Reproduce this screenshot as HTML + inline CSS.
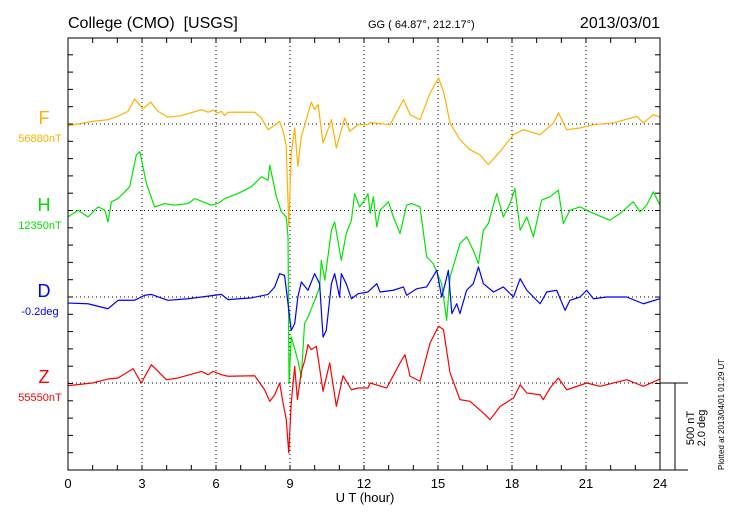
<!DOCTYPE html>
<html><head><meta charset="utf-8"><style>
body{margin:0;background:#fff}
svg{display:block;font-family:"Liberation Sans",sans-serif}
</style></head><body>
<svg id="chart" width="730" height="520" viewBox="0 0 730 520">
<text x="68" y="28" font-size="16">College (CMO)&#160;&#160;[USGS]</text>
<text x="368" y="28" font-size="11">GG ( 64.87°, 212.17°)</text>
<text x="660" y="28" font-size="16" text-anchor="end">2013/03/01</text>
<g id="grid"></g><g id="series"></g><g id="axes"></g>
<text x="44" y="124" font-size="18" fill="#ffb000" text-anchor="middle">F</text>
<text x="40" y="142" font-size="11" fill="#ffb000" text-anchor="middle">56880nT</text>
<text x="44" y="211" font-size="18" fill="#00e000" text-anchor="middle">H</text>
<text x="40" y="229" font-size="11" fill="#00e000" text-anchor="middle">12350nT</text>
<text x="44" y="297" font-size="18" fill="#0000ff" text-anchor="middle">D</text>
<text x="40" y="315" font-size="11" fill="#0000ff" text-anchor="middle">-0.2deg</text>
<text x="44" y="383" font-size="18" fill="#ff0000" text-anchor="middle">Z</text>
<text x="40" y="401" font-size="11" fill="#ff0000" text-anchor="middle">55550nT</text>
<text x="365" y="502" font-size="13" text-anchor="middle">U T (hour)</text>
<g>
<line x1="660" y1="383" x2="688" y2="383" stroke="#000"/>
<line x1="675" y1="383" x2="675" y2="470" stroke="#000"/>
<line x1="660" y1="470" x2="688" y2="470" stroke="#000"/>
<text transform="translate(694,428) rotate(-90)" font-size="11" text-anchor="middle">500 nT</text>
<text transform="translate(705,428) rotate(-90)" font-size="11" text-anchor="middle">2.0 deg</text>
</g>
<text transform="translate(724,470) rotate(-90)" font-size="8">Plotted at 2013/04/01 01:29 UT</text>
</svg>
<script>
const xTicks=[0,3,6,9,12,15,18,21,24];
const fData=[[0,-10],[1,15],[1.62,25],[2.03,45],[2.43,73],[2.7,145],[3.04,87],[3.35,127],[3.65,73],[4.05,40],[4.59,48],[5.41,83],[5.68,68],[5.88,79],[6.08,64],[6.22,73],[6.35,50],[6.49,68],[7.03,68],[7.57,68],[7.84,35],[8.11,-33],[8.31,-14],[8.58,15],[8.72,-42],[8.85,-129],[8.95,-590],[9.05,-168],[9.19,-23],[9.32,-245],[9.46,-71],[9.66,25],[9.86,127],[10,83],[10.14,112],[10.34,-110],[10.54,-33],[10.68,25],[10.88,-139],[11.01,-71],[11.22,35],[11.42,-42],[11.76,-4],[12.16,-4],[12.25,8],[13.06,-4],[13.6,141],[13.87,54],[14.27,25],[14.68,179],[15.02,266],[15.22,189],[15.49,6],[15.89,-91],[16.3,-149],[16.7,-178],[17.04,-235],[17.52,-158],[18.06,-62],[18.46,-33],[19.14,-62],[19.68,6],[19.88,64],[20.22,-33],[20.76,-23],[21.3,-4],[22.11,6],[23.06,44],[23.33,6],[23.73,54],[24,40]];
const hData=[[0,-37],[0.41,2],[0.81,-37],[1.22,21],[1.49,2],[1.62,-66],[1.76,50],[2.03,69],[2.5,137],[2.77,320],[2.91,340],[3.18,156],[3.51,21],[3.92,40],[4.32,31],[4.86,40],[5.14,69],[5.81,31],[6.08,40],[6.35,69],[6.89,98],[7.43,137],[7.84,195],[8.11,175],[8.18,262],[8.45,79],[8.65,-8],[8.85,-37],[8.92,-152],[8.96,-1000],[9.05,-731],[9.32,-866],[9.46,-963],[9.59,-654],[9.73,-616],[10,-519],[10.2,-442],[10.27,-288],[10.41,-403],[10.68,-114],[10.81,-66],[11.08,-288],[11.28,-133],[11.49,-56],[11.62,98],[11.82,21],[12.03,60],[12.16,98],[12.25,-17],[12.38,79],[12.52,-95],[12.65,2],[12.99,50],[13.19,-37],[13.46,-133],[13.73,31],[13.93,40],[14.27,21],[14.54,-268],[14.81,-307],[15.15,-423],[15.35,-635],[15.49,-384],[15.89,-191],[16.16,-152],[16.43,-230],[16.64,-307],[16.84,-114],[17.04,-75],[17.38,98],[17.65,-37],[17.92,40],[18.12,127],[18.33,-114],[18.6,-37],[18.87,-152],[19.2,60],[19.54,79],[19.88,118],[20.08,-75],[20.35,2],[20.76,21],[21.03,2],[21.3,-17],[21.97,-56],[22.38,-17],[22.92,50],[23.19,-8],[23.46,31],[23.73,108],[24,31]];
const dData=[[0,-35],[0.81,-39],[1.62,-68],[2.03,-19],[2.7,-19],[3.11,10],[3.38,15],[4.05,-19],[4.86,-10],[5.41,0],[6.22,15],[6.49,-15],[7.43,-5],[8.11,15],[8.38,58],[8.58,135],[8.78,125],[8.92,-39],[9.05,-193],[9.19,-154],[9.32,0],[9.46,87],[9.73,39],[10,135],[10.2,77],[10.34,-232],[10.47,-193],[10.68,77],[10.81,135],[11.01,0],[11.08,135],[11.28,77],[11.49,-10],[11.76,19],[12.16,29],[12.52,77],[12.65,29],[13.19,39],[13.6,58],[13.73,10],[14.14,48],[14.54,58],[14.95,154],[15.15,0],[15.29,77],[15.42,154],[15.56,-96],[15.76,-39],[15.89,-96],[16.16,39],[16.43,77],[16.64,174],[16.84,77],[17.25,29],[17.65,58],[18.06,0],[18.33,106],[18.6,39],[19.14,-39],[19.41,29],[19.81,39],[20.15,-77],[20.35,-19],[20.76,0],[21.03,39],[21.3,-10],[21.84,0],[22.65,0],[23.33,-39],[24,-10]];
const zData=[[0,-15],[1,0],[1.62,23],[2.03,29],[2.64,83],[2.97,0],[3.38,106],[3.99,19],[4.46,29],[5.41,67],[5.68,48],[5.88,67],[6.22,48],[6.49,39],[7.57,42],[7.97,-39],[8.18,-106],[8.38,-68],[8.58,0],[8.72,-116],[8.85,-212],[8.95,-405],[9.05,-116],[9.19,96],[9.3,-96],[9.46,67],[9.59,125],[9.73,222],[9.86,193],[10.07,212],[10.34,-48],[10.61,116],[10.88,-135],[11.15,42],[11.49,-39],[11.76,-29],[12.16,-29],[12.25,0],[12.92,-29],[13.46,116],[13.66,164],[13.87,39],[14.27,10],[14.68,232],[15.02,328],[15.22,309],[15.49,58],[15.89,-96],[16.3,-106],[16.84,-174],[17.11,-212],[17.52,-135],[18.06,-87],[18.33,-10],[18.6,-58],[19.14,-68],[19.27,-96],[19.54,-29],[19.88,29],[20.22,-39],[21.03,0],[21.57,-19],[22.65,19],[23.33,-19],[24,23]];
const X0=68,X1=660,Y0=38,Y1=470;
const baselines={F:124,H:210.5,D:297,Z:383};
const PXPERNT=86.5/500;
function xs(h){return X0+(X1-X0)*h/24;}
function ys(base,v){return base-v*PXPERNT;}
const NS="http://www.w3.org/2000/svg";
function mk(tag,attrs,parent){const e=document.createElementNS(NS,tag);for(const k in attrs)e.setAttribute(k,attrs[k]);parent.appendChild(e);return e;}
const grid=document.getElementById('grid'),axes=document.getElementById('axes'),ser=document.getElementById('series');
xTicks.forEach(h=>{if(h>0&&h<24){const l=mk('line',{x1:xs(h),y1:Y0,x2:xs(h),y2:Y1,stroke:'#000','stroke-width':1,'stroke-dasharray':'1,3'},grid);

}
const t=mk('text',{x:xs(h),y:488,'font-size':13,'text-anchor':'middle'},axes);t.textContent=h;

});
Object.keys(baselines).forEach(k=>{const l=mk('line',{x1:X0,y1:baselines[k],x2:X1,y2:baselines[k],stroke:'#000','stroke-dasharray':'1,3'},grid);

});
for(let h=1;h<24;h++){mk('line',{x1:xs(h),y1:Y1,x2:xs(h),y2:Y1-5,stroke:'#000'},axes);mk('line',{x1:xs(h),y1:Y0,x2:xs(h),y2:Y0+5,stroke:'#000'},axes);}
for(let y=Y1-17.3;y>Y0+2;y-=17.3){mk('line',{x1:X0,y1:y,x2:X0+5,y2:y,stroke:'#000'},axes);mk('line',{x1:X1,y1:y,x2:X1-5,y2:y,stroke:'#000'},axes);}
const frame=mk('rect',{x:X0,y:Y0,width:X1-X0,height:Y1-Y0,fill:'none',stroke:'#000'},axes);


function draw(data,base,color,name){const p=mk('polyline',{points:data.map(d=>xs(d[0])+','+ys(base,d[1])).join(' '),fill:'none',stroke:color,'stroke-width':1.2,'stroke-linejoin':'round'},ser);

}
draw(fData,baselines.F,'#ffb000','f-series');
draw(hData,baselines.H,'#00e600','h-series');
draw(dData,baselines.D,'#0000ff','d-series');
draw(zData,baselines.Z,'#ff0000','z-series');
</script>
</body></html>
